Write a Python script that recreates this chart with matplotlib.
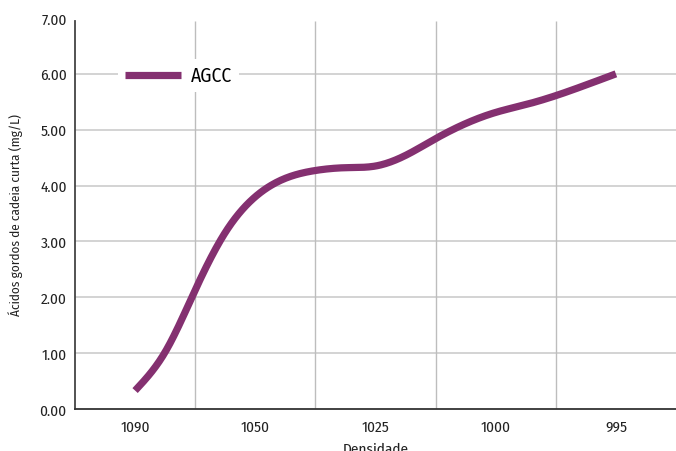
import numpy as np
import matplotlib.pyplot as plt
from matplotlib.ticker import FixedLocator

plt.rcParams['font.family'] = ['Fira Sans Condensed', 'Roboto Condensed', 'DejaVu Sans']

# category labels and curve values (every quarter step)
categories = ['1090', '1050', '1025', '1000', '995']
x_pts = [0, 0.25, 0.5, 0.75, 1, 1.25, 1.5, 1.75, 2,
         2.25, 2.5, 2.75, 3, 3.25, 3.5, 3.75, 4]
agcc = [0.33, 1.02, 2.13, 3.16, 3.80, 4.13, 4.27, 4.32, 4.35,
        4.54, 4.84, 5.11, 5.31, 5.45, 5.61, 5.80, 6.0]
y_ticks = [0, 1, 2, 3, 4, 5, 6, 7]


# natural cubic spline through the points, only used to draw a smooth line
def smooth(x, y, n=400):
    x = np.asarray(x, float)
    y = np.asarray(y, float)
    k = len(x)
    h = np.diff(x)
    A = np.zeros((k, k))
    r = np.zeros(k)
    A[0, 0] = A[-1, -1] = 1
    for i in range(1, k - 1):
        A[i, i - 1] = h[i - 1]
        A[i, i] = 2 * (h[i - 1] + h[i])
        A[i, i + 1] = h[i]
        r[i] = 6 * ((y[i + 1] - y[i]) / h[i] - (y[i] - y[i - 1]) / h[i - 1])
    m = np.linalg.solve(A, r)
    xs = np.linspace(x[0], x[-1], n)
    idx = np.clip(np.searchsorted(x, xs) - 1, 0, k - 2)
    x0, x1 = x[idx], x[idx + 1]
    hh = x1 - x0
    a, b = (x1 - xs) / hh, (xs - x0) / hh
    ys = (a * y[idx] + b * y[idx + 1]
          + ((a ** 3 - a) * m[idx] + (b ** 3 - b) * m[idx + 1]) * hh ** 2 / 6)
    return xs, ys


fig = plt.figure(figsize=(6.76, 4.52), dpi=100)
ax = fig.add_axes([75 / 676, 42 / 452, 601 / 676, 391 / 452])

sx, sy = smooth(x_pts, agcc)
ax.plot(sx, sy, color='#843070', lw=5.2, solid_capstyle='butt', label='AGCC', zorder=3)

ax.set_xlim(-0.5, 4.5)
ax.set_ylim(0, 7)
ax.set_xticks(range(len(categories)))
ax.set_xticklabels(categories)
ax.set_yticks(y_ticks)
ax.set_yticklabels([f'{v:.2f}' for v in y_ticks])
ax.xaxis.set_minor_locator(FixedLocator([0.5, 1.5, 2.5, 3.5]))
ax.tick_params(axis='both', which='both', length=0, labelsize=11, colors='#222222')
ax.tick_params(axis='x', pad=8)
ax.tick_params(axis='y', pad=6)

# gridlines: horizontal at 1..6, vertical between categories
ax.hlines(y_ticks[1:-1], -0.5, 4.5, color='#d0d0d0', lw=1.3, zorder=0)
ax.vlines([0.5, 1.5, 2.5, 3.5], 0, 6.94, color='#bdbdbd', lw=1.0, zorder=0)
for s in ['top', 'right']:
    ax.spines[s].set_visible(False)
ax.spines['left'].set_bounds(0, 6.94)
ax.spines['left'].set_color('#444444')
ax.spines['bottom'].set_color('#333333')
ax.spines['left'].set_linewidth(1.3)
ax.spines['bottom'].set_linewidth(1.3)

ax.set_xlabel('Densidade', fontsize=11, color='#222222', labelpad=5)
ax.set_ylabel('Ácidos gordos de cadeia curta (mg/L)', fontsize=9.5, color='#222222', labelpad=12)

leg = ax.legend(loc='upper left', bbox_to_anchor=(0.072, 0.895), frameon=True,
                fontsize=14, handlelength=2.9, handletextpad=0.5, borderpad=0.35,
                fancybox=False, borderaxespad=0)
leg.get_frame().set_facecolor('white')
leg.get_frame().set_edgecolor('none')
leg.get_frame().set_alpha(1)

fig.savefig('out.png', dpi=100)
